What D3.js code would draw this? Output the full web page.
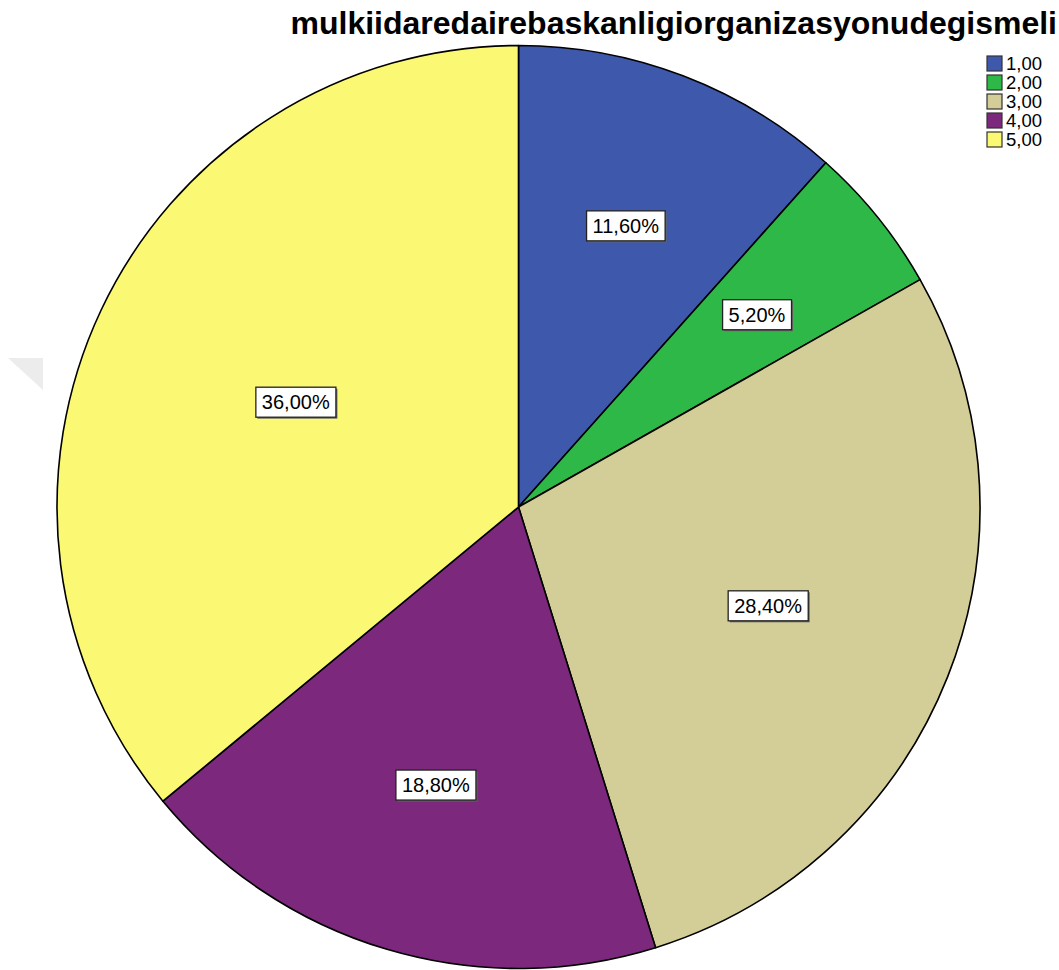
<!DOCTYPE html>
<html>
<head>
<meta charset="utf-8">
<script src="https://cdn.jsdelivr.net/npm/d3@7"></script>
<style>
  html, body { margin: 0; padding: 0; background: #fff; }
  svg { display: block; }
  text { font-family: Arial, "Liberation Sans", sans-serif; }
</style>
</head>
<body>
<svg id="chart" width="1059" height="970"></svg>
<script>
// Response categories and their share of answers (%)
const categories = ["1,00", "2,00", "3,00", "4,00", "5,00"];
const percents = [11.6, 5.2, 28.4, 18.8, 36.0];
const colors = ["#3E58AC", "#2EB848", "#D3CE97", "#7C287D", "#FBF873"];
const title = "mulkiidaredairebaskanligiorganizasyonudegismeli";

const cx = 518.5, cy = 507, R = 461.5;
const svg = d3.select("#chart");

// faint grey corner mark on the left margin
svg.append("path")
  .attr("d", "M8,358 L43,358 L43,390 Z")
  .attr("fill", "#ececec");

// title
svg.append("text")
  .attr("x", 1057).attr("y", 34)
  .attr("text-anchor", "end")
  .attr("font-weight", "bold")
  .attr("font-size", 32)
  .attr("fill", "#000")
  .text(title);

const data = categories.map((c, i) => ({ cat: c, value: percents[i], color: colors[i] }));

const pie = d3.pie().value(d => d.value).sort(null);
const arcs = pie(data);
const arc = d3.arc().innerRadius(0).outerRadius(R);

const g = svg.append("g").attr("transform", `translate(${cx},${cy})`);

g.selectAll("path.slice")
  .data(arcs)
  .enter().append("path")
  .attr("class", "slice")
  .attr("d", arc)
  .attr("fill", d => d.data.color)
  .attr("stroke", "#000")
  .attr("stroke-width", 1.6)
  .attr("stroke-linejoin", "round");

// value labels at each sector's centroid
const fmt = v => v.toFixed(2).replace(".", ",") + "%";
const labels = g.selectAll("g.lbl")
  .data(arcs)
  .enter().append("g")
  .attr("class", "lbl")
  .attr("transform", d => {
    const a = d.endAngle - d.startAngle;
    const mid = (d.startAngle + d.endAngle) / 2;
    const r = 4 * R * Math.sin(a / 2) / (3 * a);
    return `translate(${r * Math.sin(mid)},${-r * Math.cos(mid)})`;
  });

labels.each(function(d) {
  const sel = d3.select(this);
  const t = sel.append("text")
    .attr("text-anchor", "middle")
    .attr("dy", "0.35em")
    .attr("font-size", 20)
    .attr("fill", "#000")
    .text(fmt(d.data.value));
  const bb = t.node().getBBox();
  const padX = 6, padY = 4;
  sel.insert("rect", "text")
    .attr("x", bb.x - padX + 1.5).attr("y", bb.y - padY + 1.5)
    .attr("width", bb.width + 2 * padX).attr("height", bb.height + 2 * padY)
    .attr("fill", "#666");
  sel.insert("rect", "text")
    .attr("x", bb.x - padX).attr("y", bb.y - padY)
    .attr("width", bb.width + 2 * padX).attr("height", bb.height + 2 * padY)
    .attr("fill", "#fff")
    .attr("stroke", "#222")
    .attr("stroke-width", 1.3);
});

// legend
const legend = svg.append("g").attr("transform", "translate(987,56)");
const rowH = 19;
const items = legend.selectAll("g.item")
  .data(data)
  .enter().append("g")
  .attr("class", "item")
  .attr("transform", (d, i) => `translate(0,${i * rowH})`);
items.append("rect")
  .attr("width", 15).attr("height", 15)
  .attr("fill", d => d.color)
  .attr("stroke", "#333").attr("stroke-width", 1.2);
items.append("text")
  .attr("x", 19).attr("y", 8)
  .attr("dy", "0.35em")
  .attr("font-size", 18.5)
  .attr("fill", "#000")
  .text(d => d.cat);
</script>
</body>
</html>
